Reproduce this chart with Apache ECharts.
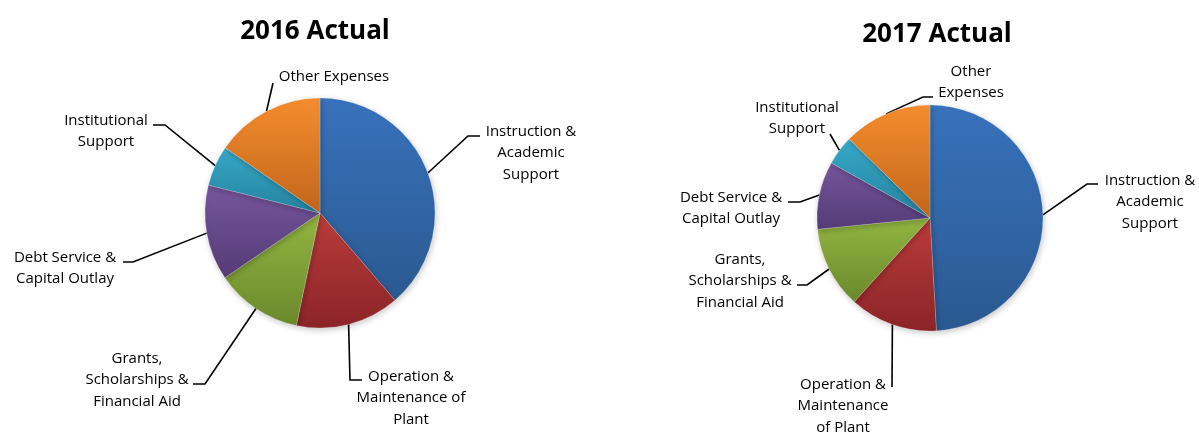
<!DOCTYPE html>
<html><head><meta charset="utf-8">
<script src="https://cdn.jsdelivr.net/npm/echarts@6/dist/echarts.min.js"></script>
<style>html,body{margin:0;padding:0;background:#fff}#c{width:1199px;height:433px}</style>
</head><body><div id="c"></div>
<script>
// ---- data ----
const categories = ['Instruction & Academic Support','Operation & Maintenance of Plant','Grants, Scholarships & Financial Aid','Debt Service & Capital Outlay','Institutional Support','Other Expenses'];
const values2016 = [38.7, 14.6, 12.2, 13.4, 5.7, 15.4];
const values2017 = [49.1, 12.6, 11.7, 9.7, 4.2, 12.7];
const labels2016 = ['Instruction &\nAcademic\nSupport','Operation &\nMaintenance of\nPlant','Grants,\nScholarships &\nFinancial Aid','Debt Service &\nCapital Outlay','Institutional\nSupport','Other Expenses'];
const labels2017 = ['Instruction &\nAcademic\nSupport','Operation &\nMaintenance\nof Plant','Grants,\nScholarships &\nFinancial Aid','Debt Service &\nCapital Outlay','Institutional\nSupport','Other\nExpenses'];
const titles = ['2016 Actual', '2017 Actual'];

// ---- styles / layout ----
const FONT = '"Open Sans", sans-serif';
const gradients = [
  ['#3872BC', '#2A5990'],
  ['#BA3C3B', '#8B2427'],
  ['#92B642', '#6A882B'],
  ['#76569C', '#543B76'],
  ['#37A8C8', '#24829E'],
  ['#F48D2E', '#C2651B']
];
// label placement: text block center (x,y), leader attach point (ax,ay), elbow x (bx)
const labelPlace = [
  [
    {x: 531, y: 153, ax: 480, ay: 136, bx: 468},
    {x: 411, y: 398, ax: 362, ay: 380, bx: 350},
    {x: 137, y: 380, ax: 193, ay: 384, bx: 205},
    {x: 65,  y: 268, ax: 123, ay: 262, bx: 133},
    {x: 106, y: 131, ax: 153, ay: 125, bx: 165},
    {x: 334, y: 77,  ax: 273, ay: 83,  bx: 273}
  ],
  [
    {x: 1150, y: 202, ax: 1098, ay: 184, bx: 1087},
    {x: 843,  y: 406, ax: 892,  ay: 387, bx: 892},
    {x: 740,  y: 281, ax: 797,  ay: 285, bx: 807},
    {x: 731,  y: 208, ax: 788,  ay: 202, bx: 800},
    {x: 797,  y: 118, ax: 830,  ay: 134, bx: 830},
    {x: 971,  y: 82,  ax: 933,  ay: 97,  bx: 923}
  ]
];

function buildData(values, labels) {
  return values.map((v, i) => ({
    name: categories[i],
    value: v,
    label: {formatter: labels[i]},
    itemStyle: {
      color: new echarts.graphic.LinearGradient(0, 0, 0, 1, [
        {offset: 0, color: gradients[i][0]},
        {offset: 1, color: gradients[i][1]}
      ])
    }
  }));
}

function pieSeries(values, labels, center, radius) {
  return {
    type: 'pie',
    center: center,
    radius: radius,
    startAngle: 90,
    clockwise: true,
    avoidLabelOverlap: false,
    animation: false,
    itemStyle: {borderColor: 'rgba(255,255,255,0.35)', borderWidth: 0.6,
      shadowBlur: 6, shadowColor: 'rgba(0,0,0,0.22)', shadowOffsetX: 1, shadowOffsetY: 2},
    label: {
      show: true, position: 'outside', color: '#000', fontFamily: FONT,
      fontSize: 15, lineHeight: 21.5
    },
    labelLine: {show: true, length: 20, length2: 10, smooth: false,
      lineStyle: {color: '#000', width: 1.6}},
    emphasis: {disabled: true},
    labelLayout: function (p) {
      const L = labelPlace[p.seriesIndex][p.dataIndex];
      const edge = p.labelLinePoints ? p.labelLinePoints[0] : [L.bx, L.ay];
      return {
        x: L.x, y: L.y, align: 'center', verticalAlign: 'middle',
        labelLinePoints: [edge, [L.bx, L.ay], [L.ax, L.ay]]
      };
    },
    data: buildData(values, labels)
  };
}

const chart = echarts.init(document.getElementById('c'), null, {renderer: 'canvas'});
chart.setOption({
  backgroundColor: '#fff',
  animation: false,
  title: [
    {text: titles[0], left: 310, top: 14, textAlign: 'center',
     textStyle: {fontFamily: FONT, fontSize: 26, fontWeight: 'bold', color: '#000'}},
    {text: titles[1], left: 932, top: 17, textAlign: 'center',
     textStyle: {fontFamily: FONT, fontSize: 26, fontWeight: 'bold', color: '#000'}}
  ],
  series: [
    pieSeries(values2016, labels2016, [320, 213], 115),
    pieSeries(values2017, labels2017, [930, 218], 113)
  ]
});
</script>
</body></html>
